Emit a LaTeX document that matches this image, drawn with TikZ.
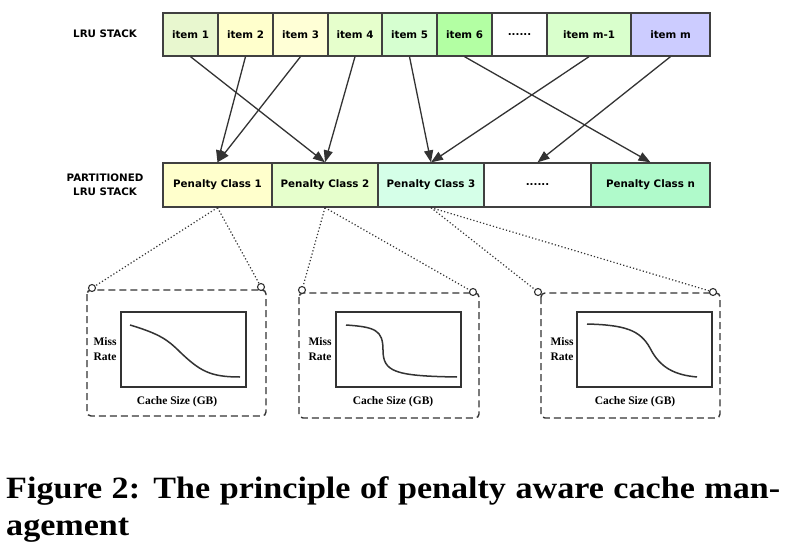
\documentclass[tikz,border=0pt]{standalone}
\usepackage{fontspec}
\setmainfont{Liberation Serif}
\newfontfamily\dvs{DejaVu Sans}
\newfontfamily\capfont{Liberation Serif}[FakeStretch=1.1]
\usetikzlibrary{arrows.meta}
\definecolor{boxline}{HTML}{404040}
\definecolor{arrcol}{HTML}{333333}
\definecolor{cI}{HTML}{E8F7CF}
\definecolor{cII}{HTML}{FFFFCC}
\definecolor{cIII}{HTML}{FFFFD6}
\definecolor{cIV}{HTML}{E6FFCC}
\definecolor{cV}{HTML}{D6FFD0}
\definecolor{cVI}{HTML}{B3FFA3}
\definecolor{cMI}{HTML}{D9FFCC}
\definecolor{cM}{HTML}{CCCCFF}
\definecolor{pI}{HTML}{FFFFCC}
\definecolor{pII}{HTML}{E6FFCC}
\definecolor{pIII}{HTML}{D5FFE8}
\definecolor{pN}{HTML}{B0FACB}
\begin{document}
\begin{tikzpicture}[x=1pt,y=-1pt,
  box/.style={draw=boxline,line width=1.3pt,inner sep=0pt,text=black,font=\dvs\bfseries\fontsize{10.3}{12}\selectfont},
  itm/.style={box,minimum height=43pt},
  pcl/.style={box,minimum height=44pt},
  lbl/.style={inner sep=0pt,align=center,font=\dvs\bfseries\fontsize{10.3}{14}\selectfont},
  arr/.style={draw=arrcol,line width=1.3pt,-{Triangle[length=12pt,width=9pt]}},
  dotl/.style={draw=arrcol,line width=1.2pt,dash pattern=on 1.2pt off 2.2pt},
  panel/.style={draw=arrcol,line width=1.4pt,dash pattern=on 7pt off 4pt,rounded corners=4pt},
  ring/.style={circle,draw=arrcol,line width=1.1pt,fill=white,minimum size=7pt,inner sep=0pt},
  plotbox/.style={draw=arrcol,line width=1.4pt},
  curve/.style={draw=arrcol,line width=1.5pt},
  ptxt/.style={inner sep=0pt,align=center,font=\bfseries\fontsize{11.5}{15}\selectfont}]
\useasboundingbox[fill=white] (0,0) rectangle (802,556);

% labels
\node[lbl] (lru) at (105,34) {LRU STACK};
\node[lbl] (plru) at (105,185) {PARTITIONED\\LRU STACK};

% top row
\node[itm,minimum width=55pt,fill=cI]   (i1) at (190.5,34.5) {item 1};
\node[itm,minimum width=55pt,fill=cII]  (i2) at (245.5,34.5) {item 2};
\node[itm,minimum width=55pt,fill=cIII] (i3) at (300.5,34.5) {item 3};
\node[itm,minimum width=54pt,fill=cIV]  (i4) at (355,34.5) {item 4};
\node[itm,minimum width=55pt,fill=cV]   (i5) at (409.5,34.5) {item 5};
\node[itm,minimum width=55pt,fill=cVI]  (i6) at (464.5,34.5) {item 6};
\node[itm,minimum width=55pt,fill=white](id) at (519.5,34.5) {......};
\node[itm,minimum width=84pt,fill=cMI]  (im1) at (589,34.5) {item m-1};
\node[itm,minimum width=79pt,fill=cM]   (im) at (670.5,34.5) {item m};

% bottom row
\node[pcl,minimum width=109pt,fill=pI]   (p1) at (217.5,185) {Penalty Class 1};
\node[pcl,minimum width=106pt,fill=pII]  (p2) at (325,185) {Penalty Class 2};
\node[pcl,minimum width=106pt,fill=pIII] (p3) at (431,185) {Penalty Class 3};
\node[pcl,minimum width=107pt,fill=white](pd) at (537.5,185) {......};
\node[pcl,minimum width=119pt,fill=pN]   (pn) at (650.5,185) {Penalty Class n};

% arrows
\draw[arr] (i1.south) -- (p2.north);
\draw[arr] (i2.south) -- (p1.north);
\draw[arr] (i3.south) -- (p1.north);
\draw[arr] (i4.south) -- (p2.north);
\draw[arr] (i5.south) -- (p3.north);
\draw[arr] (i6.south) -- (pn.north);
\draw[arr] (im1.south) -- (p3.north);
\draw[arr] (im.south) -- (pd.north);

% panels
\draw[panel] (87,290) rectangle (266,416);
\draw[panel] (299,293) rectangle (479,418);
\draw[panel] (541,293) rectangle (720,418);

% rings
\node[ring] (r1a) at (92,288) {};
\node[ring] (r1b) at (261,287) {};
\node[ring] (r2a) at (302,290) {};
\node[ring] (r2b) at (473,292) {};
\node[ring] (r3a) at (538,292) {};
\node[ring] (r3b) at (713,292) {};

% dotted connectors
\draw[dotl] (p1.south) -- (r1a);
\draw[dotl] (p1.south) -- (r1b);
\draw[dotl] (p2.south) -- (r2a);
\draw[dotl] (p2.south) -- (r2b);
\draw[dotl] (p3.south) -- (r3a);
\draw[dotl] (p3.south) -- (r3b);

% plot boxes
\draw[plotbox] (121,312) rectangle (246,387);
\draw[plotbox] (336,312) rectangle (461,387);
\draw[plotbox] (577,312) rectangle (712,387);

% curves
\draw[curve] (130,325) .. controls (160,334) and (168,340) .. (180,352) .. controls (200,371) and (210,377) .. (240,377);
\draw[curve] (346,325) .. controls (375,327) and (383,330) .. (383,350) .. controls (383,372) and (395,376) .. (457,377);
\draw[curve] (587,324) .. controls (625,325) and (640,330) .. (650,348) .. controls (660,368) and (675,375) .. (697,377);

% panel texts
\node[ptxt] (m1) at (105,349.5) {Miss\\Rate};
\node[ptxt] (m2) at (320,349.5) {Miss\\Rate};
\node[ptxt] (m3) at (562,349.5) {Miss\\Rate};
\node[ptxt] (c1) at (177,402) {Cache Size (GB)};
\node[ptxt] (c2) at (393,402) {Cache Size (GB)};
\node[ptxt] (c3) at (635,402) {Cache Size (GB)};

% caption
\node[anchor=base west,inner sep=0pt,font=\capfont\bfseries\fontsize{31}{37}\selectfont] (cap1) at (6,498) {\makebox[774pt][s]{Figure 2: The principle of penalty aware cache man-}};
\node[anchor=base west,inner sep=0pt,font=\capfont\bfseries\fontsize{31}{37}\selectfont] (cap2) at (6,535) {agement};
\end{tikzpicture}
\end{document}
